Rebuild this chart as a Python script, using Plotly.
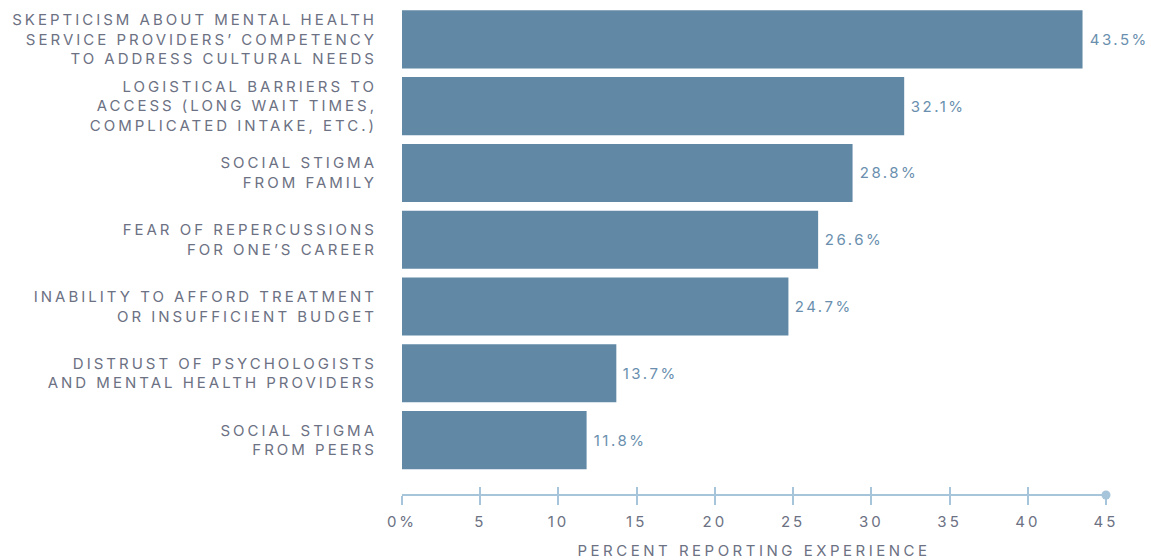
import plotly.graph_objects as go

categories = [
    "SKEPTICISM ABOUT MENTAL HEALTH<br>SERVICE PROVIDERS’ COMPETENCY<br>TO ADDRESS CULTURAL NEEDS",
    "LOGISTICAL BARRIERS TO<br>ACCESS (LONG WAIT TIMES,<br>COMPLICATED INTAKE, ETC.)",
    "SOCIAL STIGMA<br>FROM FAMILY",
    "FEAR OF REPERCUSSIONS<br>FOR ONE’S CAREER",
    "INABILITY TO AFFORD TREATMENT<br>OR INSUFFICIENT BUDGET",
    "DISTRUST OF PSYCHOLOGISTS<br>AND MENTAL HEALTH PROVIDERS",
    "SOCIAL STIGMA<br>FROM PEERS",
]
values = [43.5, 32.1, 28.8, 26.6, 24.7, 13.7, 11.8]
tick_vals = [0, 5, 10, 15, 20, 25, 30, 35, 40, 45]
tick_text = ["0%", "5", "10", "15", "20", "25", "30", "35", "40", "45"]
x_title = "PERCENT REPORTING EXPERIENCE"

FONT = "Inter"
BAR = "#6189a6"
AXIS = "#a6c4da"
GRAY = "#6c7183"
VAL = "#6a8fae"

fig = go.Figure()
fig.add_trace(go.Bar(
    x=values, y=categories, orientation="h",
    marker=dict(color=BAR, line=dict(width=0)),
    hoverinfo="skip", showlegend=False,
))
fig.add_trace(go.Scatter(x=[None], y=[None], xaxis="x2", showlegend=False, hoverinfo="skip"))

for c, v in zip(categories, values):
    fig.add_annotation(x=v, y=c, text=f"{v}%", showarrow=False, xanchor="left",
                       xshift=11, font=dict(family=FONT, size=15, color=VAL))

fig.add_shape(type="circle", xref="paper", yref="paper", xsizemode="pixel", ysizemode="pixel",
              xanchor=1, yanchor=0, x0=-4.5, x1=4.5, y0=-4.5, y1=4.5,
              fillcolor=AXIS, line=dict(width=0))

fig.update_layout(
    width=1151, height=560,
    margin=dict(l=402, r=45, t=6, b=65, autoexpand=False),
    paper_bgcolor="white", plot_bgcolor="white",
    bargap=0.13,
    font=dict(family=FONT, size=15, color=GRAY),
    xaxis=dict(
        range=[0, 45], anchor="free", position=0, automargin=False,
        tickvals=tick_vals, ticktext=tick_text,
        ticks="outside", ticklen=9, tickwidth=1.5, tickcolor=AXIS,
        showline=True, linecolor=AXIS, linewidth=2,
        showgrid=False, zeroline=False,
        ticklabelstandoff=4,
        tickfont=dict(family=FONT, size=15, color=GRAY),
        title=dict(text=x_title, font=dict(family=FONT, size=15, color=GRAY), standoff=15),
    ),
    xaxis2=dict(
        range=[0, 45], overlaying="x", anchor="free", position=0, automargin=False,
        tickvals=tick_vals, ticks="inside", ticklen=8, tickwidth=1.5, tickcolor=AXIS,
        showticklabels=False, showline=False, showgrid=False, zeroline=False,
    ),
    yaxis=dict(
        domain=[0.044, 1], autorange="reversed", automargin=False,
        ticks="", showline=False, showgrid=False, zeroline=False,
        ticklabelstandoff=24,
        tickfont=dict(family=FONT, size=15, color=GRAY),
    ),
)

css = ("body{margin:0}"
       ".ytick text{letter-spacing:3px}"
       ".xtick text{letter-spacing:3px}"
       ".annotation-text{letter-spacing:2.5px}"
       ".xtitle{letter-spacing:3.5px}")
js = ("var s=document.createElement('style');s.textContent='" + css + "';document.head.appendChild(s);")

fig.write_html("out.html", post_script=js, config={"displayModeBar": False})
